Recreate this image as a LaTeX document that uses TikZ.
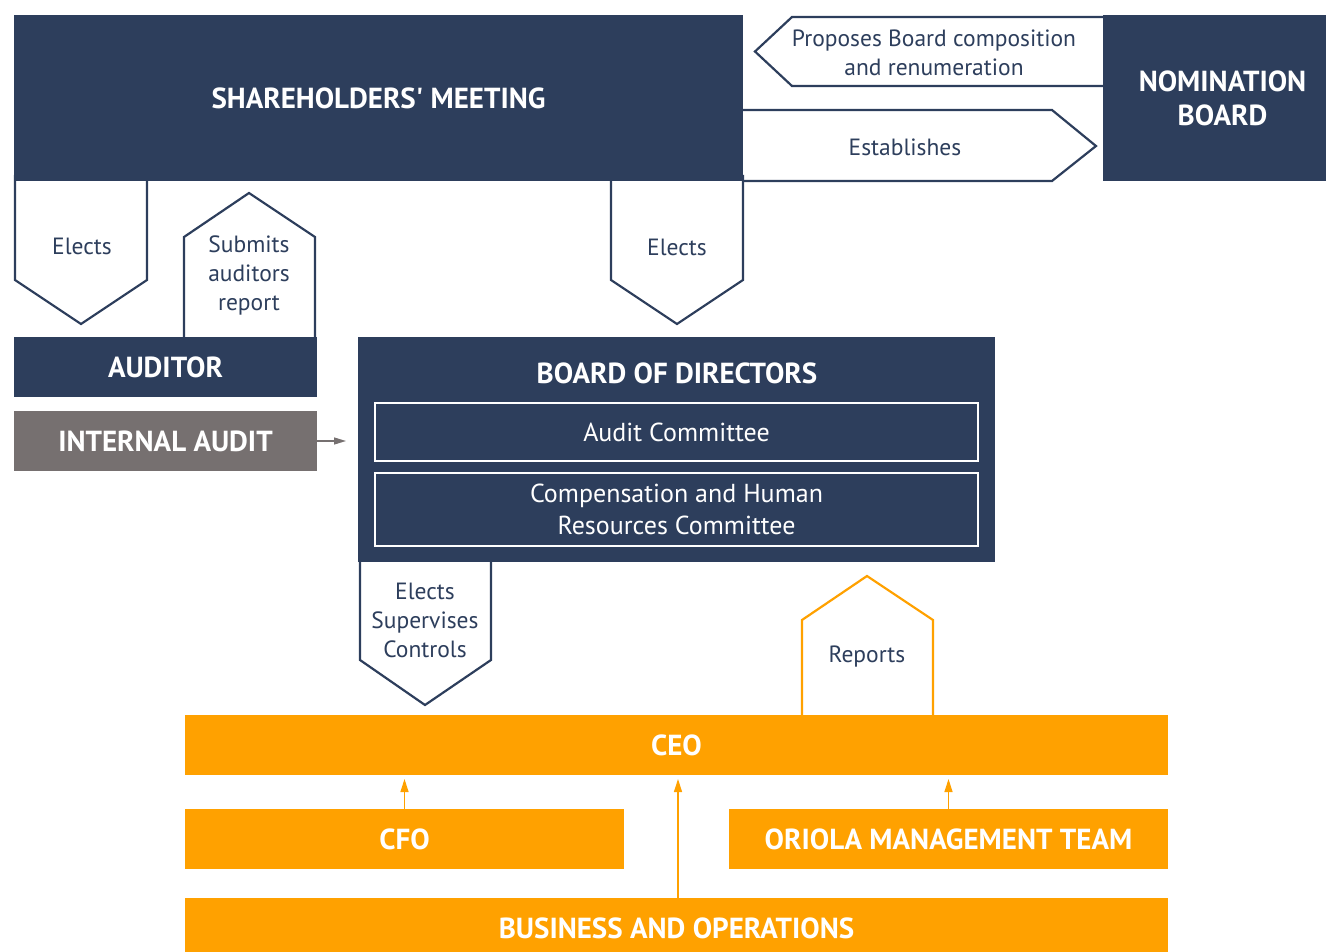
\documentclass[tikz,border=0pt]{standalone}
\usepackage{fontspec}
\setmainfont{PT Sans}
\usetikzlibrary{arrows.meta}
\definecolor{navy}{HTML}{2D3E5C}
\definecolor{orng}{HTML}{FFA100}
\definecolor{grayb}{HTML}{767070}
\begin{document}
\begin{tikzpicture}[x=1pt,y=-1pt,
  box/.style={fill=#1,inner sep=0pt,outer sep=0pt,text=white,font=\fontsize{29}{34}\selectfont\bfseries,align=center},
  inbox/.style={draw=white,line width=2pt,inner sep=0pt,text=white,font=\fontsize{26}{32}\selectfont,align=center},
  lblshape/.style={draw=navy,line width=2.2pt,fill=white,line join=miter},
  olblshape/.style={draw=orng,line width=2.2pt,fill=white,line join=miter},
  lbl/.style={text=navy,font=\fontsize{23.5}{29}\selectfont,align=center,inner sep=0pt},
  arr/.style={draw=orng,line width=1.3pt,-{Triangle[length=13pt,width=8pt]}},
]
\useasboundingbox (0,0) rectangle (1326,952);
% connector shapes (drawn first)
\draw[lblshape] (1103,17) -- (792,17) -- (755,51.5) -- (792,86) -- (1103,86);
\draw[lblshape] (743,110) -- (1052,110) -- (1096,146) -- (1052,181) -- (743,181);
\draw[lblshape] (15,175) -- (15,280) -- (81,324) -- (147,280) -- (147,175);
\draw[lblshape] (184,340) -- (184,237) -- (249,193) -- (315,237) -- (315,340);
\draw[lblshape] (611,175) -- (611,280) -- (677,324) -- (743,280) -- (743,175);
\draw[lblshape] (360,556) -- (360,660) -- (425,705) -- (491,660) -- (491,556);
\draw[olblshape] (802,720) -- (802,620) -- (867,576) -- (933,620) -- (933,720);
% boxes
\node[box=navy,minimum width=729pt,minimum height=166pt] (sm) at (378.5,98) {SHAREHOLDERS\textquotesingle\ MEETING};
\node[box=navy,minimum width=223pt,minimum height=166pt] (nb) at (1214.5,98) {\hspace*{16pt}NOMINATION\\\hspace*{16pt}BOARD};
\node[box=navy,minimum width=303pt,minimum height=60pt] (aud) at (165.5,367) {AUDITOR};
\node[box=grayb,minimum width=303pt,minimum height=60pt] (ia) at (165.5,441) {INTERNAL AUDIT};
\node[box=navy,minimum width=637pt,minimum height=225pt] (bod) at (676.5,449.5) {};
\node[box=navy,anchor=center] (bodt) at (677,373) {BOARD OF DIRECTORS};
\node[inbox,minimum width=603pt,minimum height=58pt] (ac) at (676.5,432) {Audit Committee};
\node[inbox,minimum width=603pt,minimum height=73pt] (cc) at (676.5,509.5) {Compensation and Human\\Resources Committee};
\node[box=orng,minimum width=983pt,minimum height=60pt] (ceo) at (676.5,745) {CEO};
\node[box=orng,minimum width=439pt,minimum height=60pt] (cfo) at (404.5,839) {CFO};
\node[box=orng,minimum width=439pt,minimum height=60pt] (omt) at (948.5,839) {ORIOLA MANAGEMENT TEAM};
\node[box=orng,minimum width=983pt,minimum height=60pt] (bo) at (676.5,928) {BUSINESS AND OPERATIONS};
% labels
\node[lbl] (l1) at (934,53) {Proposes Board composition\\and renumeration};
\node[lbl] (l2) at (905,147) {Establishes};
\node[lbl] (l3) at (82,246) {Elects};
\node[lbl] (l4) at (249,275) {Submits\\auditors\\report};
\node[lbl] (l5) at (677,247) {Elects};
\node[lbl] (l6) at (425,620) {Elects\\Supervises\\Controls};
\node[lbl] (l7) at (867,657) {Reports};
% arrows
\coordinate (iaend) at (346,441);
\draw[draw=grayb,line width=1.3pt,-{Triangle[length=12pt,width=7pt]}] (ia.east) -- (iaend);
\draw[arr] (cfo.north) -- ([yshift=-4pt]ceo.south -| cfo.north);
\draw[arr] (omt.north) -- ([yshift=-4pt]ceo.south -| omt.north);
\draw[arr] (bo.north -| 678,0) -- ([yshift=-4pt]ceo.south -| 678,0);
\end{tikzpicture}
\end{document}
